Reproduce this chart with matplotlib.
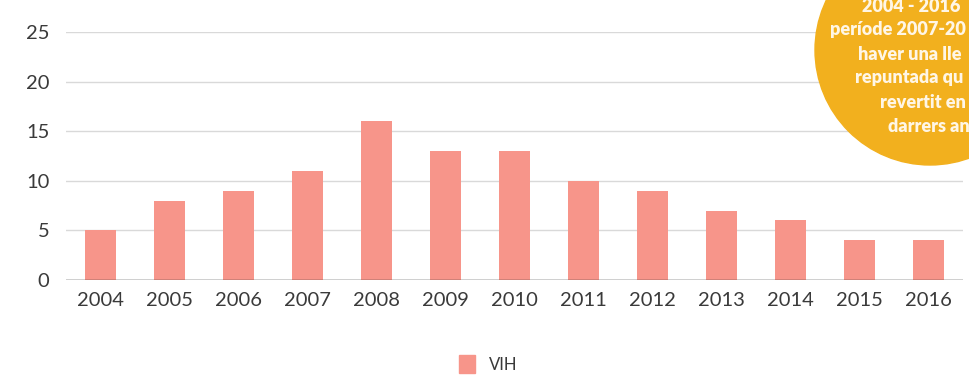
import matplotlib.pyplot as plt
from matplotlib.patches import Ellipse, Patch

years = ["2004", "2005", "2006", "2007", "2008", "2009", "2010",
         "2011", "2012", "2013", "2014", "2015", "2016"]
vih = [5, 8, 9, 11, 16, 13, 13, 10, 9, 7, 6, 4, 4]
yticks = [0, 5, 10, 15, 20, 25]
# the note is cut by the right edge of the picture in the original
note_lines = ["2004 - 2016", "període 2007-20", "haver una lle",
              "repuntada qu", "revertit en", "darrers an"]


def main():
    plt.rcParams["font.family"] = ["Lato", "DejaVu Sans"]
    W, H = 969, 379
    fig = plt.figure(figsize=(W / 100, H / 100), dpi=100)
    ax = fig.add_axes([66 / W, 1 - 280 / H, (963 - 66) / W, (280 - 32) / H])

    bar_color = "#F7958A"
    ax.bar(range(len(years)), vih, width=0.46, color=bar_color, zorder=2)

    ax.set_xlim(-0.5, len(years) - 0.5)
    ax.set_ylim(0, 25)
    ax.set_yticks(yticks)
    ax.set_xticks(range(len(years)))
    ax.set_xticklabels(years)
    ax.tick_params(axis="both", length=0, labelsize=14.5, colors="#3a3a3a")
    ax.tick_params(axis="y", pad=12)
    ax.tick_params(axis="x", pad=9)
    ax.grid(axis="y", color="#d9d9d9", linewidth=1, zorder=0)
    for s in ax.spines.values():
        s.set_visible(False)
    ax.axhline(0, color="#333333", linewidth=1, zorder=3)

    # legend
    fig.legend(handles=[Patch(color=bar_color, label="VIH")],
               loc="center", bbox_to_anchor=(488 / W, 1 - 364 / H),
               frameon=False, fontsize=12, handlelength=1.0, handleheight=1.2,
               handletextpad=0.8, labelcolor="#3a3a3a")

    # yellow annotation circle
    circ = Ellipse((930 / W, 1 - 50 / H), 230 / W, 230 / H,
                   transform=fig.transFigure, color="#F2B01E", zorder=5)
    fig.patches.append(circ)
    xs = [862, 830, 858, 855, 880, 888]
    for i, (line, x) in enumerate(zip(note_lines, xs)):
        fig.text(x / W, 1 - (6 + 24 * i) / H, line, color="#FFF6E6",
                 fontsize=13, fontweight="heavy", ha="left", va="center",
                 zorder=6)

    plt.savefig("out.png", dpi=100)


if __name__ == "__main__":
    main()
